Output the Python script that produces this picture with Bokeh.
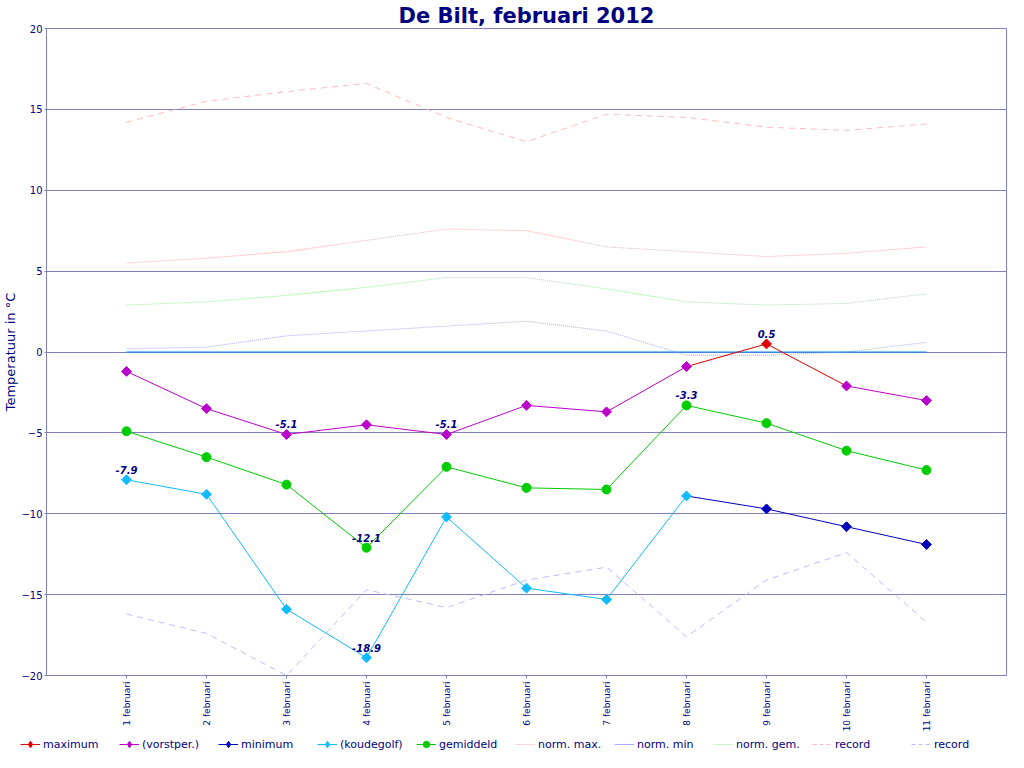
import math
from bokeh.plotting import figure
from bokeh.layouts import column
from bokeh.models import FixedTicker, Legend, LegendItem, ColumnDataSource
from bokeh.embed import file_html
from bokeh.resources import INLINE
from bokeh.core.properties import value

# ---- data -------------------------------------------------------------
days = list(range(1, 12))
day_labels = [f"{d} februari" for d in days]
tmax = [-1.2, -3.5, -5.1, -4.5, -5.1, -3.3, -3.7, -0.9, 0.5, -2.1, -3.0]
tmin = [-7.9, -8.8, -15.9, -18.9, -10.2, -14.6, -15.3, -8.9, -9.7, -10.8, -11.9]
tgem = [-4.9, -6.5, -8.2, -12.1, -7.1, -8.4, -8.5, -3.3, -4.4, -6.1, -7.3]
norm_max = [5.5, 5.8, 6.2, 6.9, 7.6, 7.5, 6.5, 6.2, 5.9, 6.1, 6.5]
norm_min = [0.2, 0.3, 1.0, 1.3, 1.6, 1.9, 1.3, -0.2, -0.2, 0.0, 0.6]
norm_gem = [2.9, 3.1, 3.5, 4.0, 4.6, 4.6, 3.9, 3.1, 2.9, 3.0, 3.6]
record_max = [14.2, 15.5, 16.1, 16.6, 14.5, 13.0, 14.7, 14.5, 13.9, 13.7, 14.1]
record_min = [-16.2, -17.4, -20.0, -14.7, -15.8, -14.1, -13.3, -17.6, -14.1, -12.4, -16.7]
y_ticks = [-20, -15, -10, -5, 0, 5, 10, 15, 20]
legend_labels = ["maximum", "(vorstper.)", "minimum", "(koudegolf)", "gemiddeld",
                 "norm. max.", "norm. min", "norm. gem.", "record", "record"]

# ---- styles -----------------------------------------------------------
NAVY = "#000080"
GRID = "#8080c0"
RED = "#dd0000"
PURPLE = "#bb00cc"
DBLUE = "#0000bb"
LBLUE = "#11bbff"
GREEN = "#00cc00"
C_NMAX, C_NMIN, C_NGEM = "#ffaaaa", "#aaaaff", "#99ee99"
C_RMAX, C_RMIN = "#ffbbbb", "#bbbbff"
FONT = "DejaVu Sans"

# frost days (max below zero) and the cold wave (initial run of frost days)
vorst = [v < 0 for v in tmax]
koude = []
run = True
for v in vorst:
    run = run and v
    koude.append(run)

p = figure(width=1008, height=734, x_range=(0, 12), y_range=(-20, 20),
           output_backend="svg", toolbar_location=None,
           min_border_left=10, min_border_right=2, min_border_bottom=0,
           min_border_top=0, background_fill_color="white",
           border_fill_color="white")
p.frame_align = False

p.title.text = "De Bilt, februari 2012"
p.title.align = "center"
p.title.text_font = FONT
p.title.text_font_size = "21px"
p.title.text_font_style = "bold"
p.title.text_color = NAVY
p.title.standoff = 2

p.outline_line_color = GRID
p.outline_line_width = 1

# axes
p.xaxis.ticker = FixedTicker(ticks=days)
p.xaxis.major_label_overrides = {d: l for d, l in zip(days, day_labels)}
p.xaxis.major_label_orientation = math.pi / 2
p.xaxis.major_label_text_font = FONT
p.xaxis.major_label_text_font_size = "9px"
p.xaxis.major_label_text_color = NAVY
p.xaxis.major_label_standoff = 3
p.xaxis.major_tick_in = 0
p.xaxis.major_tick_out = 3
p.xaxis.minor_tick_line_color = None
p.xaxis.axis_line_color = GRID
p.xaxis.major_tick_line_color = GRID

p.yaxis.ticker = FixedTicker(ticks=y_ticks)
p.yaxis.major_label_text_font = FONT
p.yaxis.major_label_text_font_size = "10px"
p.yaxis.major_label_text_color = NAVY
p.yaxis.major_label_standoff = 2
p.yaxis.major_tick_in = 0
p.yaxis.major_tick_out = 2
p.yaxis.minor_tick_line_color = None
p.yaxis.axis_line_color = GRID
p.yaxis.major_tick_line_color = GRID
p.yaxis.axis_label = "Temperatuur in °C"
p.yaxis.axis_label_text_font = FONT
p.yaxis.axis_label_text_font_size = "13px"
p.yaxis.axis_label_text_font_style = "normal"
p.yaxis.axis_label_text_color = NAVY
p.yaxis.axis_label_standoff = 0

p.xgrid.grid_line_color = None
p.ygrid.grid_line_color = GRID
p.ygrid.grid_line_width = 1

# normals and records
p.line(days, norm_max, line_color=C_NMAX, line_dash="1 1", line_width=1)
p.line(days, norm_min, line_color=C_NMIN, line_dash="1 1", line_width=1)
p.line(days, norm_gem, line_color=C_NGEM, line_dash="1 1", line_width=1)
p.line(days, record_max, line_color=C_RMAX, line_dash="6 5", line_width=1)
p.line(days, record_min, line_color=C_RMIN, line_dash="6 5", line_width=1)

# freezing line
p.line([days[0], days[-1]], [0, 0], line_color="#0088ff", line_width=1.2)

def segs(vals, flags, c_in, c_out):
    s_in = dict(x0=[], y0=[], x1=[], y1=[])
    s_out = dict(x0=[], y0=[], x1=[], y1=[])
    for i in range(len(vals) - 1):
        tgt = s_in if (flags[i] and flags[i + 1]) else s_out
        tgt["x0"].append(days[i]); tgt["y0"].append(vals[i])
        tgt["x1"].append(days[i + 1]); tgt["y1"].append(vals[i + 1])
    p.segment("x0", "y0", "x1", "y1", source=ColumnDataSource(s_in),
              line_color=c_in, line_width=1)
    p.segment("x0", "y0", "x1", "y1", source=ColumnDataSource(s_out),
              line_color=c_out, line_width=1)

def marks(vals, flags, c_in, c_out):
    xi = [d for d, f in zip(days, flags) if f]
    yi = [v for v, f in zip(vals, flags) if f]
    xo = [d for d, f in zip(days, flags) if not f]
    yo = [v for v, f in zip(vals, flags) if not f]
    p.scatter(xi, yi, marker="square", angle=math.pi / 4, size=7,
              fill_color=c_in, line_color=c_in)
    p.scatter(xo, yo, marker="square", angle=math.pi / 4, size=7,
              fill_color=c_out, line_color=c_out)

# gemiddeld
p.line(days, tgem, line_color=GREEN, line_width=1)
p.scatter(days, tgem, marker="circle", size=9, fill_color=GREEN, line_color=GREEN)

# minimum
segs(tmin, koude, LBLUE, DBLUE)
marks(tmin, koude, LBLUE, DBLUE)

# maximum
segs(tmax, vorst, PURPLE, RED)
marks(tmax, vorst, PURPLE, RED)

# extreme value annotations
lx, ly, lt = [], [], []
for ser in (tmax, tmin, tgem):
    for ext in (max(ser), min(ser)):
        for d, v in zip(days, ser):
            if v == ext:
                lx.append(d); ly.append(v); lt.append(f"{v:.1f}")
p.text(lx, ly, text=lt, text_font=value(FONT), text_font_size="10px",
       text_font_style="bold italic", text_color=NAVY, text_align="center",
       text_baseline="bottom", y_offset=-6)

# ---- legend strip (separate figure below) ------------------------------
lg = figure(width=1008, height=18, x_range=(0, 1), y_range=(0, 1),
            output_backend="svg", toolbar_location=None,
            x_axis_location=None, y_axis_location=None,
            min_border_left=0, min_border_right=0, min_border_top=0,
            min_border_bottom=0, outline_line_color=None,
            background_fill_color="white", border_fill_color="white")
lg.frame_align = False
lg.xgrid.visible = False
lg.ygrid.visible = False

# legend sample glyphs: one point placed outside the visible range
OFF = [-5]

def lg_series(color, marker, size):
    r1 = lg.line(OFF, OFF, line_color=color, line_width=1)
    r2 = lg.scatter(OFF, OFF, marker=marker, size=size, fill_color=color, line_color=color)
    return [r1, r2]

lg_renderers = [
    lg_series(RED, "diamond", 11),
    lg_series(PURPLE, "diamond", 11),
    lg_series(DBLUE, "diamond", 11),
    lg_series(LBLUE, "diamond", 11),
    lg_series(GREEN, "circle", 9),
    [lg.line(OFF, OFF, line_color=C_NMAX, line_dash="1 1")],
    [lg.line(OFF, OFF, line_color=C_NMIN)],
    [lg.line(OFF, OFF, line_color=C_NGEM, line_dash="1 1")],
    [lg.line(OFF, OFF, line_color=C_RMAX, line_dash="4 3")],
    [lg.line(OFF, OFF, line_color=C_RMIN, line_dash="4 3")],
]
legend = Legend(items=[LegendItem(label=l, renderers=r)
                       for l, r in zip(legend_labels, lg_renderers)],
                orientation="horizontal", location=(20, 0))
legend.label_text_font = FONT
legend.label_text_font_size = "11px"
legend.label_text_color = NAVY
legend.label_standoff = 3
legend.label_width = 73
legend.label_height = 14
legend.glyph_width = 20
legend.glyph_height = 16
legend.spacing = 3
legend.padding = 1
legend.margin = 0
legend.border_line_color = None
legend.background_fill_alpha = 0
lg.add_layout(legend, "center")

layout = column(p, lg, spacing=0)
open("out.html", "w").write(file_html(layout, INLINE))
